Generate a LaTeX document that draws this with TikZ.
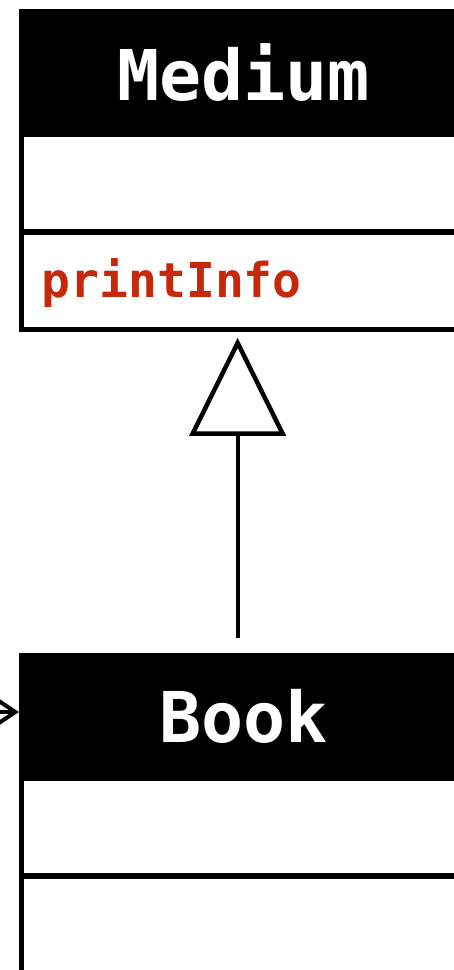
\documentclass[tikz,border=0pt]{standalone}
\usepackage{fontspec}
\newfontfamily\umlmono{DejaVu Sans Mono}
\usetikzlibrary{positioning, arrows.meta}
\definecolor{opred}{RGB}{200,40,10}

\begin{document}
\begin{tikzpicture}[
    header/.style={fill=black, draw=black, text=white, minimum width=221.75pt, minimum height=61pt, inner sep=0pt, anchor=north west, font=\umlmono\bfseries\fontsize{35}{35}\selectfont},
    part/.style={draw=black, line width=1.5pt, minimum width=221.75pt, minimum height=47.5pt, inner sep=0pt},
    ops/.style={part, text width=202pt, inner xsep=9.875pt, align=left, text height=23pt, text depth=6pt, text=opred, font=\umlmono\bfseries\fontsize{24}{24}\selectfont},
    frame/.style={draw=black, line width=2.5pt},
    link/.style={draw=black, line width=2pt},
    node distance=0pt
]
    \useasboundingbox (0,0) rectangle (227pt,-485pt);
    \clip (0,0) rectangle (227pt,-485pt);
    % Medium
    \node[header] (medium) at (10.75pt,-5.5pt) {Medium};
    \node[part, below=of medium] (medium-attrs) {};
    \node[ops, below=of medium-attrs] (medium-ops) {printInfo};
    \draw[frame] (medium.north west) rectangle (medium-ops.south east);
    % Book
    \node[header] (book) at (10.75pt,-327.5pt) {Book};
    \node[part, below=of book] (book-attrs) {};
    \node[part, below=of book-attrs] (book-ops) {};
    \draw[frame] (book.north west) rectangle (book-ops.south east);
    % Inheritance
    \draw[link, -{Triangle[open, length=49pt, width=48pt, line width=2.25pt]}, shorten <=8.5pt, shorten >=4pt]
        ([xshift=-3pt]book.north) -- ([xshift=-3pt]medium-ops.south);
    % Incoming association
    \coordinate (caller) at (-30pt,-356pt);
    \draw[link, -{Straight Barb[length=9pt, width=12pt]}, shorten >=1.25pt] (caller) -- (book.west |- caller);
\end{tikzpicture}
\end{document}
